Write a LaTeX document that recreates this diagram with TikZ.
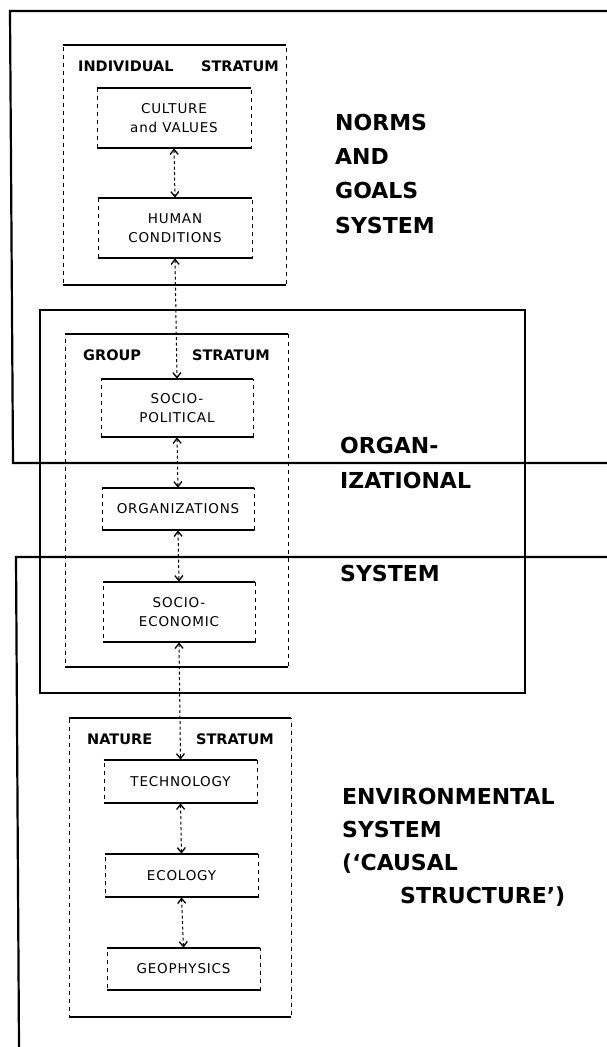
\documentclass[tikz,border=0pt]{standalone}
\usepackage{fontspec}
\setmainfont{DejaVu Sans}
\newfontfamily\elemfont[LetterSpace=6]{DejaVu Sans}
\usetikzlibrary{arrows.meta}
\begin{document}
\begin{tikzpicture}[x=1pt,y=-1pt,
  sysline/.style={line width=2.2pt},
  solidedge/.style={line width=2pt},
  sideedge/.style={line width=0.8pt, dash pattern=on 4pt off 4pt},
  stratum/.style={draw, sideedge, rectangle, inner sep=0pt},
  elem/.style={draw, sideedge, rectangle, inner sep=0pt, align=center,
    font=\elemfont\fontsize{13.5}{19}\selectfont},
  stlabel/.style={font=\bfseries\fontsize{14.5}{17}\selectfont, inner sep=0pt},
  syslabel/.style={font=\bfseries\fontsize{22}{34.3}\selectfont, align=left, inner sep=0pt, anchor=base west},
  conn/.style={line width=1pt, dash pattern=on 3pt off 2.5pt,
    {Straight Barb[length=5pt,width=8pt,line width=1.3pt]}-{Straight Barb[length=5pt,width=8pt,line width=1.3pt]}}
]
\fill[white] (0,0) rectangle (607,1047);
\useasboundingbox (0,0) rectangle (607,1047);

% system boxes
\draw[sysline] (607,11) -- (10,11) -- (13,463) -- (607,463);
\node[draw, sysline, rectangle, inner sep=0pt, minimum width=485pt, minimum height=383pt] (orgsys) at (282.5,501.5) {};
\draw[sysline] (607,557) -- (16,557) -- (19,1047);

% strata
\node[stratum, minimum width=223pt, minimum height=240pt] (indiv) at (174.5,165) {};
\node[stratum, minimum width=223pt, minimum height=333pt] (group) at (176.5,500.5) {};
\node[stratum, minimum width=222pt, minimum height=299pt] (nature) at (180,867.5) {};

% elements
\node[elem, minimum width=154pt, minimum height=60pt] (culture) at (174,118) {CULTURE\\and VALUES};
\node[elem, minimum width=154pt, minimum height=60pt] (human) at (175,228) {HUMAN\\CONDITIONS};
\node[elem, minimum width=152pt, minimum height=58pt] (socpol) at (177,408) {SOCIO-\\POLITICAL};
\node[elem, minimum width=152pt, minimum height=42pt] (orgs) at (178,509) {ORGANIZATIONS};
\node[elem, minimum width=152pt, minimum height=60pt] (soceco) at (179,612) {SOCIO-\\ECONOMIC};
\node[elem, minimum width=153pt, minimum height=43pt] (tech) at (180.5,781.5) {TECHNOLOGY};
\node[elem, minimum width=153pt, minimum height=43pt] (eco) at (181.5,875.5) {ECOLOGY};
\node[elem, minimum width=153pt, minimum height=42pt] (geo) at (183.5,969) {GEOPHYSICS};

\foreach \n in {indiv,group,nature,culture,human,socpol,orgs,soceco,tech,eco,geo}
  \draw[solidedge] (\n.north west) -- (\n.north east) (\n.south west) -- (\n.south east);

% stratum labels
\node[stlabel, anchor=west] (indivL) at (78,66) {INDIVIDUAL};
\node[stlabel, anchor=east] (indivR) at (279,66) {STRATUM};
\node[stlabel, anchor=west] (groupL) at (83,355) {GROUP};
\node[stlabel, anchor=east] (groupR) at (270,355) {STRATUM};
\node[stlabel, anchor=west] (natureL) at (87,739) {NATURE};
\node[stlabel, anchor=east] (natureR) at (274,739) {STRATUM};

% connectors
\draw[conn] (culture.south) -- (human.north);
\draw[conn] (human.south) -- (socpol.north);
\draw[conn] (socpol.south) -- (orgs.north);
\draw[conn] (orgs.south) -- (soceco.north);
\draw[conn] (soceco.south) -- (tech.north);
\draw[conn] (tech.south) -- (eco.north);
\draw[conn] (eco.south) -- (geo.north);

% system labels (base anchor = baseline of last line)
\node[syslabel] (normsL) at (335,233) {NORMS\\AND\\GOALS\\SYSTEM};
\node[syslabel, font=\bfseries\fontsize{22}{35}\selectfont] (orgL) at (340,488) {ORGAN-\\IZATIONAL};
\node[syslabel] (orgL2) at (340,581) {SYSTEM};
\node[syslabel, font=\bfseries\fontsize{22}{32.7}\selectfont] (envL) at (342,903) {ENVIRONMENTAL\\SYSTEM\\(‘CAUSAL\\\hspace*{58pt}STRUCTURE’)};
\end{tikzpicture}
\end{document}
